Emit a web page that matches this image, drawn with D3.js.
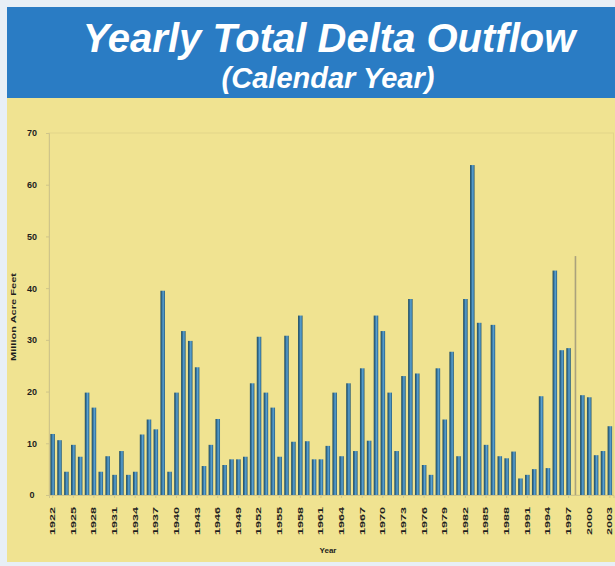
<!DOCTYPE html>
<html lang="en">
<head>
<meta charset="utf-8">
<title>Yearly Total Delta Outflow</title>
<script src="https://cdn.jsdelivr.net/npm/d3@7"></script>
<style>
  html, body { margin: 0; padding: 0; background: #e8eff6; }
  svg { display: block; }
</style>
</head>
<body>
<script>
// yearly outflow, million acre feet (calendar year)
var years = d3.range(1922, 2004);
var outflow = [
  11.8, 10.6, 4.5, 9.7, 7.4, 19.8, 16.9, 4.5, 7.5, 3.9,
  8.5, 3.9, 4.5, 11.7, 14.6, 12.7, 39.5, 4.5, 19.8, 31.7,
  29.8, 24.7, 5.6, 9.7, 14.7, 5.8, 6.9, 6.9, 7.4, 21.6,
  30.6, 19.8, 16.9, 7.4, 30.8, 10.3, 34.7, 10.4, 6.9, 6.9,
  9.5, 19.8, 7.5, 21.6, 8.5, 24.5, 10.5, 34.7, 31.7, 19.8,
  8.5, 23.0, 37.9, 23.5, 5.8, 3.9, 24.5, 14.6, 27.7, 7.5,
  37.9, 63.8, 33.3, 9.7, 32.9, 7.5, 7.1, 8.4, 3.2, 3.9,
  5.0, 19.1, 5.2, 43.4, 28.0, 28.4, 46.2, 19.3, 18.9, 7.7,
  8.5, 13.3
];
var yTicks = [0, 10, 20, 30, 40, 50, 60, 70];
var xTickYears = years.filter(function(d, i) { return i % 3 === 0; });
var faintYears = [1998];

var w = 615, h = 566;
var plot = { left: 49, right: 613.5, top: 133, bottom: 495 };

var svg = d3.select('body').append('svg')
    .attr('width', w)
    .attr('height', h);

var defs = svg.append('defs');
var grad = defs.append('linearGradient')
    .attr('id', 'barGrad')
    .attr('x1', '0%').attr('x2', '100%')
    .attr('y1', '0%').attr('y2', '0%');
grad.append('stop').attr('offset', '0%').attr('stop-color', '#2a5058');
grad.append('stop').attr('offset', '28%').attr('stop-color', '#2d6890');
grad.append('stop').attr('offset', '60%').attr('stop-color', '#5aa2d0');
grad.append('stop').attr('offset', '85%').attr('stop-color', '#3a7aa6');
grad.append('stop').attr('offset', '100%').attr('stop-color', '#2a5460');

// backgrounds
svg.append('rect')
    .attr('x', 0).attr('y', 0).attr('width', w).attr('height', h)
    .attr('fill', '#e8eff6');
svg.append('rect')
    .attr('x', 7).attr('y', 97).attr('width', w - 7).attr('height', 465)
    .attr('fill', '#f0e391');
svg.append('rect')
    .attr('x', 7).attr('y', 7).attr('width', w - 7).attr('height', 91)
    .attr('fill', '#2a7cc4');

// titles
svg.append('text')
    .attr('x', 329).attr('y', 52)
    .attr('text-anchor', 'middle')
    .attr('font-family', 'Liberation Sans, Arial, sans-serif')
    .attr('font-weight', 'bold')
    .attr('font-style', 'italic')
    .attr('font-size', '40px')
    .attr('fill', '#ffffff')
    .text('Yearly Total Delta Outflow');
svg.append('text')
    .attr('x', 328).attr('y', 88)
    .attr('text-anchor', 'middle')
    .attr('font-family', 'Liberation Sans, Arial, sans-serif')
    .attr('font-weight', 'bold')
    .attr('font-style', 'italic')
    .attr('font-size', '29px')
    .attr('fill', '#ffffff')
    .text('(Calendar Year)');

// scales
var x = d3.scaleBand()
    .domain(years)
    .range([plot.left, plot.right])
    .paddingInner(0.34)
    .paddingOuter(0.2);

var y = d3.scaleLinear()
    .domain([0, 70])
    .range([plot.bottom, plot.top]);

// plot frame (faint)
svg.append('rect')
    .attr('x', plot.left).attr('y', plot.top)
    .attr('width', plot.right - plot.left)
    .attr('height', plot.bottom - plot.top)
    .attr('fill', 'none')
    .attr('stroke', '#e2d589')
    .attr('stroke-width', 1);

// bars
svg.selectAll('rect.bar')
    .data(years)
    .enter()
    .append('rect')
    .attr('class', 'bar')
    .attr('x', function(d) {
        return faintYears.indexOf(d) >= 0 ? x(d) + x.bandwidth() / 2 - 0.8 : x(d);
    })
    .attr('y', function(d, i) { return y(outflow[i]); })
    .attr('width', function(d) {
        return faintYears.indexOf(d) >= 0 ? 1.6 : x.bandwidth();
    })
    .attr('height', function(d, i) { return y(0) - y(outflow[i]); })
    .attr('fill', function(d) {
        return faintYears.indexOf(d) >= 0 ? '#aaa27c' : 'url(#barGrad)';
    });

// y axis
var yAxis = d3.axisLeft(y)
    .tickValues(yTicks)
    .tickSize(3)
    .tickFormat(d3.format('d'));
var gy = svg.append('g')
    .attr('transform', 'translate(' + plot.left + ',0)')
    .call(yAxis);
gy.select('.domain').attr('stroke', '#cfc58a');
gy.selectAll('.tick line').attr('stroke', '#cfc58a');
gy.selectAll('.tick text')
    .attr('x', -17)
    .attr('text-anchor', 'middle')
    .attr('font-family', 'Liberation Sans, Arial, sans-serif')
    .attr('font-weight', 'bold')
    .attr('font-size', '9px')
    .attr('fill', '#1e1e1e');

// x axis
var xAxis = d3.axisBottom(x)
    .tickValues(xTickYears)
    .tickSize(3)
    .tickFormat(d3.format('d'));
var gx = svg.append('g')
    .attr('transform', 'translate(0,' + plot.bottom + ')')
    .call(xAxis);
gx.select('.domain').attr('stroke', '#cfc58a');
gx.selectAll('.tick line').attr('stroke', '#cfc58a');
gx.selectAll('.tick text')
    .attr('transform', 'rotate(-90)')
    .attr('x', -12)
    .attr('y', 0)
    .attr('dy', '0.35em')
    .attr('text-anchor', 'end')
    .attr('textLength', 28)
    .attr('lengthAdjust', 'spacingAndGlyphs')
    .attr('font-family', 'Liberation Sans, Arial, sans-serif')
    .attr('font-weight', 'bold')
    .attr('font-size', '7px')
    .attr('fill', '#1e1e1e');

// axis titles
svg.append('text')
    .attr('transform', 'translate(16,' + 317 + ') rotate(-90)')
    .attr('text-anchor', 'middle')
    .attr('textLength', 88)
    .attr('lengthAdjust', 'spacingAndGlyphs')
    .attr('font-family', 'Liberation Sans, Arial, sans-serif')
    .attr('font-weight', 'bold')
    .attr('font-size', '7px')
    .attr('fill', '#1e1e1e')
    .text('Million Acre Feet');

svg.append('text')
    .attr('x', 328).attr('y', 553)
    .attr('text-anchor', 'middle')
    .attr('font-family', 'Liberation Sans, Arial, sans-serif')
    .attr('font-weight', 'bold')
    .attr('font-size', '8px')
    .attr('fill', '#1e1e1e')
    .text('Year');
</script>
</body>
</html>
